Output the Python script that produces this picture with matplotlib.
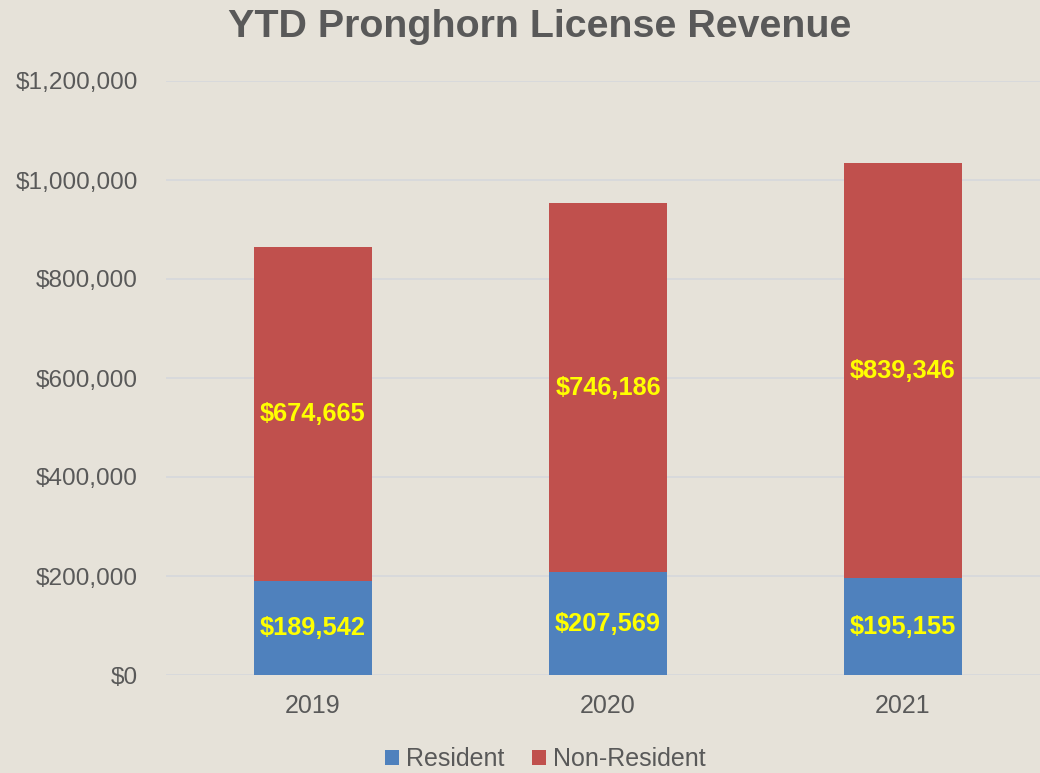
import matplotlib
matplotlib.use("Agg")
import matplotlib.pyplot as plt
from matplotlib.ticker import FuncFormatter
import numpy as np

years = ["2019", "2020", "2021"]
resident = [189542, 207569, 195155]
non_resident = [674665, 746186, 839346]
series_names = ["Resident", "Non-Resident"]
y_ticks = [0, 200000, 400000, 600000, 800000, 1000000, 1200000]

plt.rcParams['font.family'] = ['Liberation Sans', 'DejaVu Sans']
bg = '#E6E2D9'
gray = '#595959'
blue = '#4F81BD'
red = '#C0504D'

fig = plt.figure(figsize=(10.4, 7.73), dpi=100, facecolor=bg)
ax = fig.add_axes([165.5/1040, 1-675/773, (1050.5-165.5)/1040, 594/773])
ax.set_facecolor(bg)

x = np.arange(len(years))
w = 0.4
b1 = ax.bar(x, resident, width=w, color=blue, label=series_names[0], zorder=3)
b2 = ax.bar(x, non_resident, width=w, bottom=resident, color=red, label=series_names[1], zorder=3)

for i in range(len(years)):
    ax.text(x[i], resident[i]/2, f"${resident[i]:,}", ha='center', va='center',
            color='#FFFF00', fontsize=18.3, fontweight='bold', zorder=4)
    ax.text(x[i], resident[i] + non_resident[i]/2, f"${non_resident[i]:,}", ha='center', va='center',
            color='#FFFF00', fontsize=18.3, fontweight='bold', zorder=4)

ax.set_xlim(-0.5, 2.5)
ax.set_ylim(0, 1200000)
ax.set_yticks(y_ticks)
ax.yaxis.set_major_formatter(FuncFormatter(lambda v, p: f"${int(v):,}"))
ax.set_xticks(x)
ax.set_xticklabels(years)
ax.tick_params(axis='both', length=0, labelcolor=gray)
ax.tick_params(axis='x', pad=14, labelsize=18)
ax.tick_params(axis='y', pad=20, labelsize=17.6)
ax.grid(axis='y', color='#D6D8DC', linewidth=1.2, zorder=0)
for s in ax.spines.values():
    s.set_visible(False)

fig.text(540/1040, 1-27/773, "YTD Pronghorn License Revenue", ha='center', va='center',
         fontsize=28.4, fontweight='bold', color=gray)

leg = fig.legend(handles=[b1, b2], labels=series_names, loc='center', bbox_to_anchor=(545.5/1040, 1-759/773),
                 ncol=2, frameon=False, fontsize=18, handlelength=0.55, handleheight=0.55,
                 handletextpad=0.3, columnspacing=1.1)
for t in leg.get_texts():
    t.set_color(gray)

fig.savefig("out.png", dpi=100, facecolor=bg)
